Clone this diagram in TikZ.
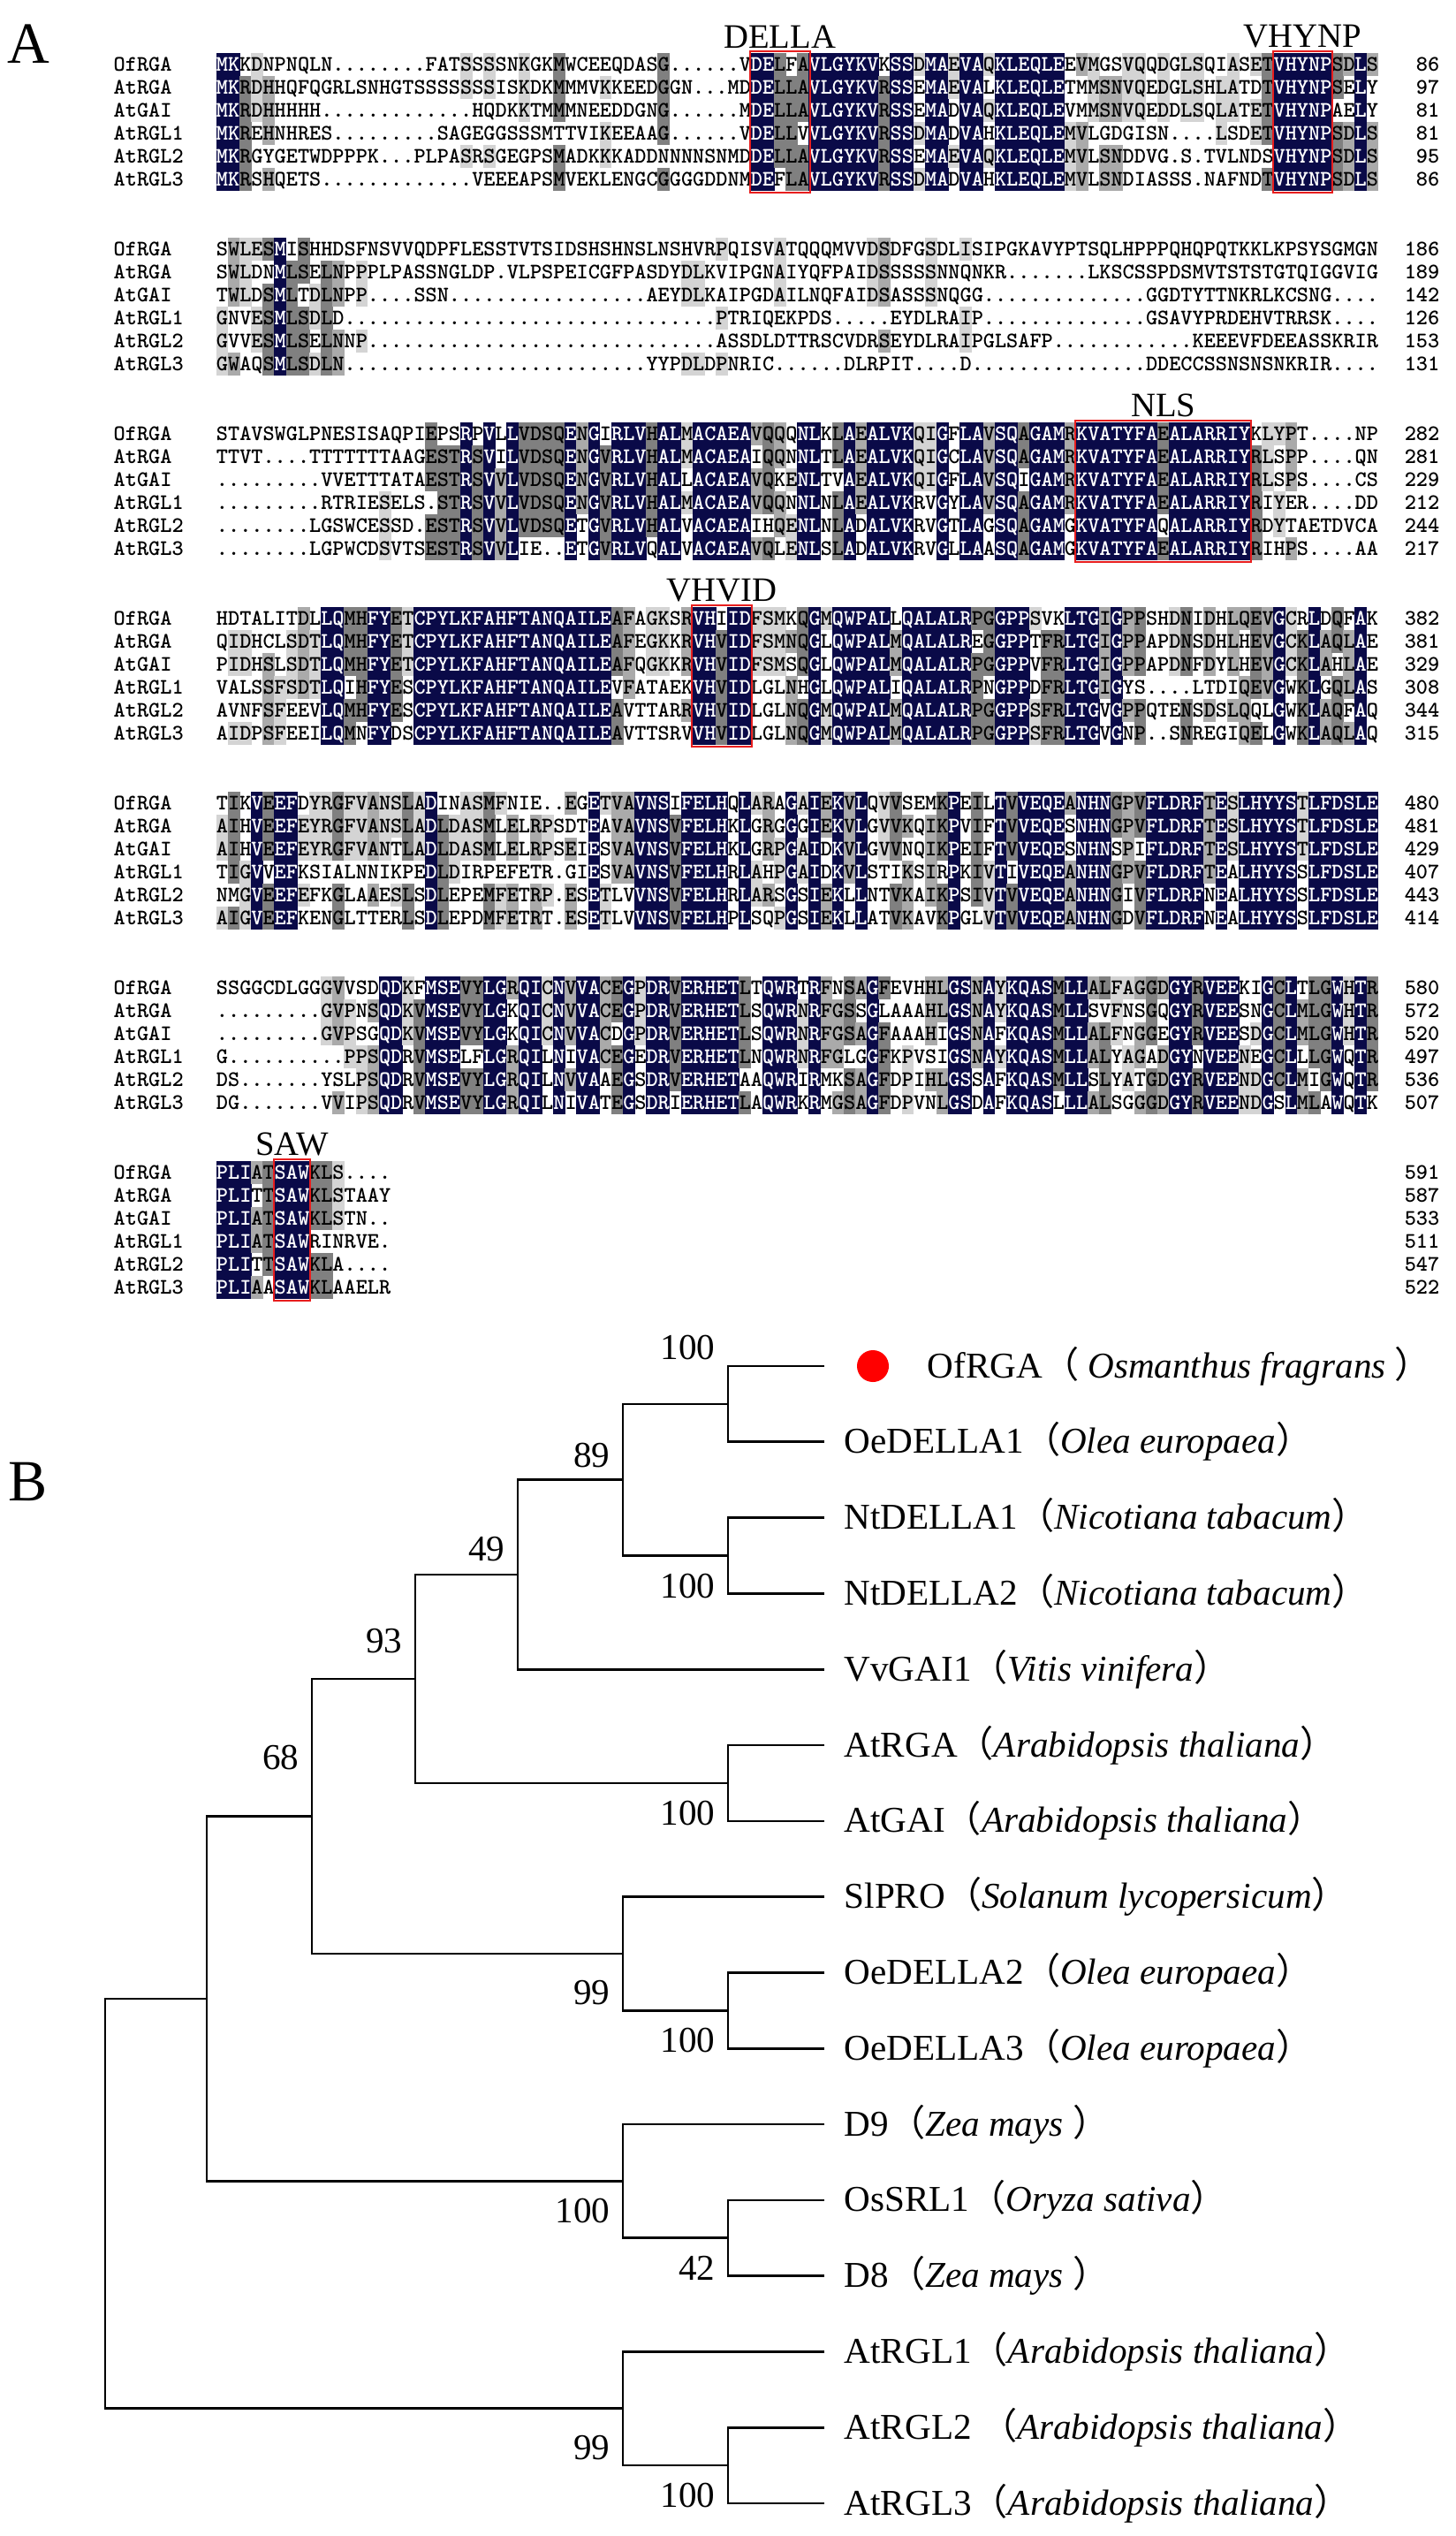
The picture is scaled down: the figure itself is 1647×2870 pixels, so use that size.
\documentclass[tikz,border=0pt]{standalone}
\usepackage{fontspec}
\setmainfont{Liberation Serif}
\newfontfamily\cjk{Noto Sans CJK SC}
\usetikzlibrary{calc}

\definecolor{alnavy}{RGB}{10,10,72}
\definecolor{aldark}{RGB}{128,128,128}
\definecolor{almid}{RGB}{170,170,170}
\definecolor{allight}{RGB}{212,212,212}
\definecolor{motifred}{RGB}{232,30,30}

\tikzset{
  % alignment
  al res/.style={font=\ttfamily\bfseries\fontsize{7.13}{8}\selectfont, inner sep=0, anchor=base},
  al name/.style={font=\ttfamily\bfseries\fontsize{7.13}{8}\selectfont, inner sep=0, anchor=base west},
  al num/.style={font=\ttfamily\bfseries\fontsize{7.13}{8}\selectfont, inner sep=0, anchor=base east},
  al box/.style={draw=motifred, line width=0.6pt},
  al motif/.style={font=\fontsize{11}{13}\selectfont, inner sep=0, anchor=south},
  panel/.style={font=\fontsize{18.8}{22}\selectfont, inner sep=0, anchor=base west},
  % tree
  branch/.style={line width=0.75pt},
  leaf/.style={font=\fontsize{11.7}{14}\selectfont, inner sep=0, anchor=base west},
  boot/.style={font=\fontsize{11.7}{14}\selectfont, inner sep=0, anchor=east},
}

\newcommand\lp{{\cjk （}}
\newcommand\rp{{\cjk ）}}

% column geometry of the alignment (px of the page)
\newcommand\alx{245}
\newcommand\alw{13.15}
\newcommand\alh{26}
\def\aly{73}

% one residue: column, row, letter, level 0-4
\newcommand\alcell[4]{%
  \pgfmathsetmacro\alcx{\alx+(#1-1)*\alw}%
  \pgfmathsetmacro\alcy{\aly+(#2-1)*\alh}%
  \ifcase#4\relax
  \or\fill[allight] (\alcx-.3,\alcy-\alh/2-.3) rectangle ++(\alw+.6,\alh+.6);%
  \or\fill[almid] (\alcx-.3,\alcy-\alh/2-.3) rectangle ++(\alw+.6,\alh+.6);%
  \or\fill[aldark] (\alcx-.3,\alcy-\alh/2-.3) rectangle ++(\alw+.6,\alh+.6);%
  \or\fill[alnavy] (\alcx-.3,\alcy-\alh/2-.3) rectangle ++(\alw+.6,\alh+.6);%
  \fi
  \ifnum#4=4 \def\altc{white}\else\def\altc{black}\fi
  \node[al res, text=\altc] at (\alcx+\alw/2,\alcy+7.5) {#3};%
}

\ExplSyntaxOn
\seq_new:N \l__al_rows_seq
\seq_new:N \l__al_col_seq
\int_new:N \l__al_col_int
\int_new:N \l__al_row_int
\int_new:N \l__al_cnt_int
\int_new:N \l__al_best_int
\int_new:N \l__al_lvl_int
\tl_new:N \l__al_cons_tl
\cs_new:Npn \gp #1 { \prg_replicate:nn {#1} {.} }
\cs_new_protected:Npn \__al_count:n #1
  {
    \tl_if_empty:nF {#1}
      {
        \str_if_eq:nnF {#1} {.}
          {
            \int_zero:N \l__al_cnt_int
            \seq_map_inline:Nn \l__al_col_seq
              { \str_if_eq:nnT {#1} {##1} { \int_incr:N \l__al_cnt_int } }
            \int_compare:nNnT \l__al_cnt_int > \l__al_best_int
              {
                \int_set_eq:NN \l__al_best_int \l__al_cnt_int
                \tl_set:Nn \l__al_cons_tl {#1}
              }
          }
      }
  }
\cs_new_protected:Npn \__al_cell:n #1
  {
    \int_incr:N \l__al_row_int
    \tl_if_empty:nF {#1}
      {
        \int_zero:N \l__al_lvl_int
        \str_if_eq:VnT \l__al_cons_tl {#1}
          {
            \int_set:Nn \l__al_lvl_int
              { \int_case:nnF { \l__al_best_int } { {6}{4} {5}{3} {4}{2} {3}{1} } {0} }
          }
        \use:e
          {
            \exp_not:N \alcell
              { \int_use:N \l__al_col_int }
              { \int_use:N \l__al_row_int }
              { \exp_not:n {#1} }
              { \int_use:N \l__al_lvl_int }
          }
      }
  }
\cs_new_protected:Npn \__al_column:n #1
  {
    \int_set:Nn \l__al_col_int {#1}
    \seq_clear:N \l__al_col_seq
    \seq_map_inline:Nn \l__al_rows_seq
      { \seq_put_right:Nx \l__al_col_seq { \str_item:nn {##1} {#1} } }
    \int_zero:N \l__al_best_int
    \tl_clear:N \l__al_cons_tl
    \seq_map_function:NN \l__al_col_seq \__al_count:n
    \int_zero:N \l__al_row_int
    \seq_map_function:NN \l__al_col_seq \__al_cell:n
  }
\NewDocumentCommand \alshade { m }
  {
    \seq_clear:N \l__al_rows_seq
    \clist_map_inline:nn {#1}
      { \seq_put_right:Nx \l__al_rows_seq {##1} }
    \int_step_function:nN { 100 } \__al_column:n
  }
\ExplSyntaxOff

% block number, y of first row, end numbers, six sequences
\newcommand\alblock[4]{%
  \def\aly{#2}%
  \alshade{#4}%
  \foreach \nm [count=\rw] in {OfRGA,AtRGA,AtGAI,AtRGL1,AtRGL2,AtRGL3}
    \node[al name] (name#1\rw) at (128,{#2+(\rw-1)*\alh+7.5}) {\nm};
  \foreach \nb [count=\rw] in {#3}
    \node[al num] (end#1\rw) at (1630,{#2+(\rw-1)*\alh+7.5}) {\nb};
}

% y of first row, first column, last column, label
\newcommand\motif[4]{%
  \draw[al box] ({\alx+(#2-1)*\alw-1},{#1-\alh/2-2}) rectangle ({\alx+#3*\alw+1},{#1+5.5*\alh+2});
  \node[al motif] (#4) at ({\alx+(#2+#3-1)*\alw/2},{#1-\alh/2-5}) {#4};
}

\begin{document}
\begin{tikzpicture}[x=0.01cm, y=-0.01cm]
  \useasboundingbox[fill=white] (0,0) rectangle (1647,2870);

  \node[panel] (A) at (8,72) {A};

  % alignment
  \alblock{1}{73}{86,97,81,81,95,86}{
    MKKDNPNQLN\gp{8}FATSSSSNKGKMWCEEQDASG\gp{6}VDELFAVLGYKVKSSDMAEVAQKLEQLEEVMGSVQQDGLSQIASETVHYNPSDLS,
    MKRDHHQFQGRLSNHGTSSSSSSSISKDKMMMVKKEEDGGN\gp{3}MDDELLAVLGYKVRSSEMAEVALKLEQLETMMSNVQEDGLSHLATDTVHYNPSELY,
    MKRDHHHHH\gp{13}HQDKKTMMMNEEDDGNG\gp{6}MDELLAVLGYKVRSSEMADVAQKLEQLEVMMSNVQEDDLSQLATETVHYNPAELY,
    MKREHNHRES\gp{9}SAGEGGSSSMTTVIKEEAAG\gp{6}VDELLVVLGYKVRSSDMADVAHKLEQLEMVLGDGISN\gp{4}LSDETVHYNPSDLS,
    MKRGYGETWDPPPK\gp{3}PLPASRSGEGPSMADKKKADDNNNNSNMDDELLAVLGYKVRSSEMAEVAQKLEQLEMVLSNDDVG.S.TVLNDSVHYNPSDLS,
    MKRSHQETS\gp{13}VEEEAPSMVEKLENGCGGGGDDNMDEFLAVLGYKVRSSDMADVAHKLEQLEMVLSNDIASSS.NAFNDTVHYNPSDLS}
  \motif{73}{47}{51}{DELLA}
  \motif{73}{92}{96}{VHYNP}

  \alblock{2}{282}{186,189,142,126,153,131}{
    SWLESMISHHDSFNSVVQDPFLESSTVTSIDSHSHNSLNSHVRPQISVATQQQMVVDSDFGSDLISIPGKAVYPTSQLHPPPQHQPQTKKLKPSYSGMGN,
    SWLDNMLSELNPPPLPASSNGLDP.VLPSPEICGFPASDYDLKVIPGNAIYQFPAIDSSSSSNNQNKR\gp{7}LKSCSSPDSMVTSTSTGTQIGGVIG,
    TWLDSMLTDLNPP\gp{4}SSN\gp{17}AEYDLKAIPGDAILNQFAIDSASSSNQGG\gp{14}GGDTYTTNKRLKCSNG\gp{4},
    GNVESMLSDLD\gp{32}PTRIQEKPDS\gp{5}EYDLRAIP\gp{14}GSAVYPRDEHVTRRSK\gp{4},
    GVVESMLSELNNP\gp{30}ASSDLDTTRSCVDRSEYDLRAIPGLSAFP\gp{12}KEEEVFDEEASSKRIR,
    GWAQSMLSDLN\gp{26}YYPDLDPNRIC\gp{6}DLRPIT\gp{4}D\gp{15}DDECCSSNSNSNKRIR\gp{4}}

  \alblock{3}{491}{282,281,229,212,244,217}{
    STAVSWGLPNESISAQPIEPSRPVLLVDSQENGIRLVHALMACAEAVQQQNLKLAEALVKQIGFLAVSQAGAMRKVATYFAEALARRIYKLYPT\gp{4}NP,
    TTVT\gp{4}TTTTTTTAAGESTRSVILVDSQENGVRLVHALMACAEAIQQNNLTLAEALVKQIGCLAVSQAGAMRKVATYFAEALARRIYRLSPP\gp{4}QN,
    \gp{9}VVETTTATAESTRSVVLVDSQENGVRLVHALLACAEAVQKENLTVAEALVKQIGFLAVSQIGAMRKVATYFAEALARRIYRLSPS\gp{4}CS,
    \gp{9}RTRIESELS.STRSVVLVDSQENGVRLVHALMACAEAVQQNNLNLAEALVKRVGYLAVSQAGAMRKVATYFAEALARRIYRIYER\gp{4}DD,
    \gp{8}LGSWCESSD.ESTRSVVLVDSQETGVRLVHALVACAEAIHQENLNLADALVKRVGTLAGSQAGAMGKVATYFAQALARRIYRDYTAETDVCA,
    \gp{8}LGPWCDSVTSESTRSVVLIE..ETGVRLVQALVACAEAVQLENLSLADALVKRVGLLAASQAGAMGKVATYFAEALARRIYRIHPS\gp{4}AA}
  \motif{491}{75}{89}{NLS}

  \alblock{4}{700}{382,381,329,308,344,315}{
    HDTALITDLLQMHFYETCPYLKFAHFTANQAILEAFAGKSRVHIIDFSMKQGMQWPALLQALALRPGGPPSVKLTGIGPPSHDNIDHLQEVGCRLDQFAK,
    QIDHCLSDTLQMHFYETCPYLKFAHFTANQAILEAFEGKKRVHVIDFSMNQGLQWPALMQALALREGGPPTFRLTGIGPPAPDNSDHLHEVGCKLAQLAE,
    PIDHSLSDTLQMHFYETCPYLKFAHFTANQAILEAFQGKKRVHVIDFSMSQGLQWPALMQALALRPGGPPVFRLTGIGPPAPDNFDYLHEVGCKLAHLAE,
    VALSSFSDTLQIHFYESCPYLKFAHFTANQAILEVFATAEKVHVIDLGLNHGLQWPALIQALALRPNGPPDFRLTGIGYS\gp{4}LTDIQEVGWKLGQLAS,
    AVNFSFEEVLQMHFYESCPYLKFAHFTANQAILEAVTTARRVHVIDLGLNQGMQWPALMQALALRPGGPPSFRLTGVGPPQTENSDSLQQLGWKLAQFAQ,
    AIDPSFEEILQMNFYDSCPYLKFAHFTANQAILEAVTTSRVVHVIDLGLNQGMQWPALMQALALRPGGPPSFRLTGVGNP..SNREGIQELGWKLAQLAQ}
  \motif{700}{42}{46}{VHVID}

  \alblock{5}{909}{480,481,429,407,443,414}{
    TIKVEEFDYRGFVANSLADINASMFNIE..EGETVAVNSIFELHQLARAGAIEKVLQVVSEMKPEILTVVEQEANHNGPVFLDRFTESLHYYSTLFDSLE,
    AIHVEEFEYRGFVANSLADLDASMLELRPSDTEAVAVNSVFELHKLGRGGGIEKVLGVVKQIKPVIFTVVEQESNHNGPVFLDRFTESLHYYSTLFDSLE,
    AIHVEEFEYRGFVANTLADLDASMLELRPSEIESVAVNSVFELHKLGRPGAIDKVLGVVNQIKPEIFTVVEQESNHNSPIFLDRFTESLHYYSTLFDSLE,
    TIGVVEFKSIALNNIKPEDLDIRPEFETR.GIESVAVNSVFELHRLAHPGAIDKVLSTIKSIRPKIVTIVEQEANHNGPVFLDRFTEALHYYSSLFDSLE,
    NMGVEEFEFKGLAAESLSDLEPEMFETRP.ESETLVVNSVFELHRLARSGSIEKLLNTVKAIKPSIVTVVEQEANHNGIVFLDRFNEALHYYSSLFDSLE,
    AIGVEEFKENGLTTERLSDLEPDMFETRT.ESETLVVNSVFELHPLSQPGSIEKLLATVKAVKPGLVTVVEQEANHNGDVFLDRFNEALHYYSSLFDSLE}

  \alblock{6}{1118}{580,572,520,497,536,507}{
    SSGGCDLGGGVVSDQDKFMSEVYLGRQICNVVACEGPDRVERHETLTQWRTRFNSAGFEVHHLGSNAYKQASMLLALFAGGDGYRVEEKIGCLTLGWHTR,
    \gp{9}GVPNSQDKVMSEVYLGKQICNVVACEGPDRVERHETLSQWRNRFGSSGLAAAHLGSNAYKQASMLLSVFNSGQGYRVEESNGCLMLGWHTR,
    \gp{9}GVPSGQDKVMSEVYLGKQICNVVACDGPDRVERHETLSQWRNRFGSAGFAAAHIGSNAFKQASMLLALFNGGEGYRVEESDGCLMLGWHTR,
    G\gp{10}PPSQDRVMSELFLGRQILNIVACEGEDRVERHETLNQWRNRFGLGGFKPVSIGSNAYKQASMLLALYAGADGYNVEENEGCLLLGWQTR,
    DS\gp{7}YSLPSQDRVMSEVYLGRQILNVVAAEGSDRVERHETAAQWRIRMKSAGFDPIHLGSSAFKQASMLLSLYATGDGYRVEENDGCLMIGWQTR,
    DG\gp{7}VVIPSQDRVMSEVYLGRQILNIVATEGSDRIERHETLAQWRKRMGSAGFDPVNLGSDAFKQASLLLALSGGGDGYRVEENDGSLMLAWQTK}

  \alblock{7}{1327}{591,587,533,511,547,522}{
    PLIATSAWKLS\gp{4},
    PLITTSAWKLSTAAY,
    PLIATSAWKLSTN\gp{2},
    PLIATSAWRINRVE.,
    PLITTSAWKLA\gp{4},
    PLIAASAWKLAAELR}
  \motif{1327}{6}{8}{SAW}

  % tree
  \node[panel] (B) at (9,1698) {B};

  \coordinate (L1) at (933,1546);
  \coordinate (L2) at (933,1631.8);
  \coordinate (L3) at (933,1717.6);
  \coordinate (L4) at (933,1803.4);
  \coordinate (L5) at (933,1889.2);
  \coordinate (L6) at (933,1975);
  \coordinate (L7) at (933,2060.8);
  \coordinate (L8) at (933,2146.6);
  \coordinate (L9) at (933,2232.4);
  \coordinate (L10) at (933,2318.2);
  \coordinate (L11) at (933,2404);
  \coordinate (L12) at (933,2489.8);
  \coordinate (L13) at (933,2575.6);
  \coordinate (L14) at (933,2661.4);
  \coordinate (L15) at (933,2747.2);
  \coordinate (L16) at (933,2833);

  \coordinate (nA) at (824,1588.9);
  \coordinate (nB) at (824,1760.5);
  \coordinate (nC) at (705,1674.7);
  \coordinate (nD) at (586,1781.95);
  \coordinate (nE) at (824,2017.9);
  \coordinate (nF) at (470,1899.9);
  \coordinate (nG) at (824,2275.3);
  \coordinate (nH) at (705,2210.95);
  \coordinate (nI) at (353,2055.4);
  \coordinate (nJ) at (824,2532.7);
  \coordinate (nK) at (705,2468.35);
  \coordinate (nL) at (234,2261.9);
  \coordinate (nM) at (824,2790.1);
  \coordinate (nN) at (705,2725.75);
  \coordinate (root) at (119,2493.8);

  \draw[branch] (L1) -| (nA) |- (L2);
  \draw[branch] (L3) -| (nB) |- (L4);
  \draw[branch] (nA) -| (nC) |- (nB);
  \draw[branch] (nC) -| (nD) |- (L5);
  \draw[branch] (L6) -| (nE) |- (L7);
  \draw[branch] (nD) -| (nF) |- (nE);
  \draw[branch] (L9) -| (nG) |- (L10);
  \draw[branch] (L8) -| (nH) |- (nG);
  \draw[branch] (nF) -| (nI) |- (nH);
  \draw[branch] (L12) -| (nJ) |- (L13);
  \draw[branch] (L11) -| (nK) |- (nJ);
  \draw[branch] (nI) -| (nL) |- (nK);
  \draw[branch] (L15) -| (nM) |- (L16);
  \draw[branch] (L14) -| (nN) |- (nM);
  \draw[branch] (nL) -| (root) |- (nN);

  \node[circle, fill=red, inner sep=0, minimum size=0.36cm] (dot) at ($(L1)+(55,0)$) {};
  \node[leaf] (t1) at ($(L1)+(116,13)$) {OfRGA\lp\ \textit{Osmanthus fragrans}\ \rp};
  \node[leaf] (t2) at ($(L2)+(22,13)$) {OeDELLA1\lp\textit{Olea europaea}\rp};
  \node[leaf] (t3) at ($(L3)+(22,13)$) {NtDELLA1\lp\textit{Nicotiana tabacum}\rp};
  \node[leaf] (t4) at ($(L4)+(22,13)$) {NtDELLA2\lp\textit{Nicotiana tabacum}\rp};
  \node[leaf] (t5) at ($(L5)+(22,13)$) {VvGAI1\lp\textit{Vitis vinifera}\rp};
  \node[leaf] (t6) at ($(L6)+(22,13)$) {AtRGA\lp\textit{Arabidopsis thaliana}\rp};
  \node[leaf] (t7) at ($(L7)+(22,13)$) {AtGAI\lp\textit{Arabidopsis thaliana}\rp};
  \node[leaf] (t8) at ($(L8)+(22,13)$) {SlPRO\lp\textit{Solanum lycopersicum}\rp};
  \node[leaf] (t9) at ($(L9)+(22,13)$) {OeDELLA2\lp\textit{Olea europaea}\rp};
  \node[leaf] (t10) at ($(L10)+(22,13)$) {OeDELLA3\lp\textit{Olea europaea}\rp};
  \node[leaf] (t11) at ($(L11)+(22,13)$) {D9\lp\textit{Zea mays}\ \rp};
  \node[leaf] (t12) at ($(L12)+(22,13)$) {OsSRL1\lp\textit{Oryza sativa}\rp};
  \node[leaf] (t13) at ($(L13)+(22,13)$) {D8\lp\textit{Zea mays}\ \rp};
  \node[leaf] (t14) at ($(L14)+(22,13)$) {AtRGL1\lp\textit{Arabidopsis thaliana}\rp};
  \node[leaf] (t15) at ($(L15)+(22,13)$) {AtRGL2\ \lp\textit{Arabidopsis thaliana}\rp};
  \node[leaf] (t16) at ($(L16)+(22,13)$) {AtRGL3\lp\textit{Arabidopsis thaliana}\rp};

  % bootstrap values
  \node[boot] (bA) at ($(nA)+(-14,-64)$) {100};
  \node[boot] (bB) at ($(nB)+(-14,34)$) {100};
  \node[boot] (bC) at ($(nC)+(-14,-28)$) {89};
  \node[boot] (bD) at ($(nD)+(-14,-29)$) {49};
  \node[boot] (bE) at ($(nE)+(-14,34)$) {100};
  \node[boot] (bF) at ($(nF)+(-14,-43)$) {93};
  \node[boot] (bG) at ($(nG)+(-14,34)$) {100};
  \node[boot] (bH) at ($(nH)+(-14,44)$) {99};
  \node[boot] (bI) at ($(nI)+(-14,-66)$) {68};
  \node[boot] (bJ) at ($(nJ)+(-14,34)$) {42};
  \node[boot] (bK) at ($(nK)+(-14,34)$) {100};
  \node[boot] (bM) at ($(nM)+(-14,34)$) {100};
  \node[boot] (bN) at ($(nN)+(-14,44)$) {99};
\end{tikzpicture}
\end{document}
